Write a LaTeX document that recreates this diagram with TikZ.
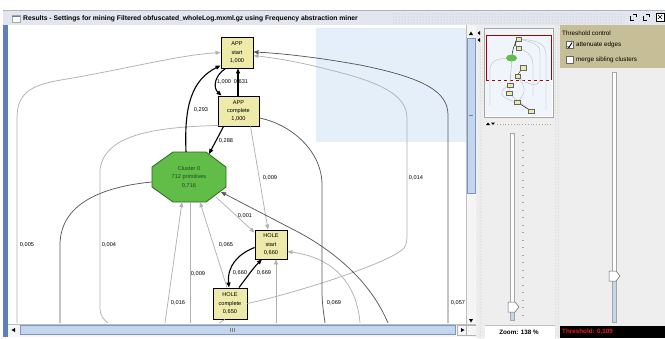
\documentclass[tikz,border=0pt]{standalone}
\usepackage{fontspec}
\setmainfont{Liberation Sans}
\usetikzlibrary{arrows.meta,calc,patterns}
\definecolor{nodeyel}{RGB}{238,234,170}
\definecolor{octgreen}{RGB}{98,188,72}
\definecolor{octdark}{RGB}{38,105,30}
\definecolor{octtext}{RGB}{30,70,30}
\definecolor{edgedark}{RGB}{90,90,90}
\definecolor{edgelight}{RGB}{178,178,178}
\definecolor{viewblue}{RGB}{228,239,249}
\definecolor{khaki}{RGB}{198,190,150}
\definecolor{panelgrey}{RGB}{238,238,238}
\definecolor{scrollblue}{RGB}{196,214,238}
\definecolor{scrolledge}{RGB}{120,150,200}
\definecolor{borderblue}{RGB}{96,126,186}
\definecolor{titlebg}{RGB}{226,230,238}
\definecolor{thresred}{RGB}{235,30,30}
\begin{document}
\begin{tikzpicture}[x=1pt,y=-1pt,
  evt/.style={draw=black,line width=0.9pt,fill=nodeyel,align=center,font=\fontsize{5.6}{8.2}\selectfont,inner sep=0pt},
  lbl/.style={font=\fontsize{5.6}{6}\selectfont,inner sep=0pt},
  bk/.style={line width=1.1pt,black},
  dk/.style={line width=0.75pt,edgedark},
  lt/.style={line width=0.75pt,edgelight},
  tip/.style={-{Triangle[length=5pt,width=4pt]}},
  ui/.style={font=\fontsize{6.3}{7}\selectfont,inner sep=0pt},
  dotstrip/.style={pattern=dots,pattern color=gray!55},
  sbox/.style={draw=gray!70,fill=white,line width=0.5pt}
]
\useasboundingbox (0,0) rectangle (665,338);
\fill[white] (0,0) rectangle (665,338);

% ---------- window title bar ----------
\fill[titlebg] (3,10) rectangle (665,25);
\draw[gray!60,line width=0.4pt] (3,10) -- (665,10);
\fill[dotstrip] (393,13) rectangle (624,23);
\draw[gray!70,fill=white,line width=0.5pt] (12,15) rectangle (20,22);
\draw[borderblue,line width=1pt] (12,16) -- (20,16);
\node[ui,font=\fontsize{6.75}{7.5}\selectfont\bfseries,anchor=west] (title) at (23,19)
  {Results - Settings for mining Filtered obfuscated\_wholeLog.mxml.gz using Frequency abstraction miner};
% title icons
\draw[black,line width=0.5pt] (630,16) -- (630,20) -- (634,20);
\draw[black,line width=0.5pt] (633,14) -- (636,14) -- (636,17);
\draw[black,line width=0.5pt] (643,16) -- (643,20) -- (647,20);
\draw[black,line width=0.5pt] (646,14) -- (649,14) -- (649,17);
\draw[black,line width=0.5pt,fill=white] (656,13) rectangle (664,21);
\draw[black,line width=0.6pt] (658,15) -- (662,19) (662,15) -- (658,19);

% ---------- left border, canvas ----------
\fill[borderblue] (3,25) rectangle (8,337);
\fill[white] (8,25) rectangle (466,324);
\fill[viewblue] (316,28) rectangle (466,142);

% ---------- graph ----------
\node[evt,minimum width=32,minimum height=31] (as) at (237,52.5) {APP\\start\\1,000};
\node[evt,minimum width=41,minimum height=30] (ac) at (238.5,111) {APP\\complete\\1,000};
\coordinate (clc) at (189,177);
\draw[octdark,line width=0.8pt,fill=octgreen]
  ($(clc)+(-16,-25)$) -- ($(clc)+(17,-25)$) -- ($(clc)+(37,-10)$) -- ($(clc)+(37,10)$)
  -- ($(clc)+(17,25)$) -- ($(clc)+(-16,25)$) -- ($(clc)+(-37,10)$) -- ($(clc)+(-37,-10)$) -- cycle;
\node[align=center,font=\fontsize{5.6}{8.6}\selectfont,text=octtext,minimum width=74,minimum height=50,inner sep=0pt] (cl) at (clc)
  {Cluster 0\\712 primitives\\0,716};
\node[evt,minimum width=32,minimum height=29] (hs) at (271,244.5) {HOLE\\start\\0,660};
\node[evt,minimum width=34,minimum height=31] (hc) at (230,303.5) {HOLE\\complete\\0,650};

% free ends at the canvas bottom / off-canvas
\coordinate (b17) at (17,323);
\coordinate (b60) at (60,323);
\coordinate (b108) at (108,323);
\coordinate (b165) at (165,323);
\coordinate (b190) at (190,323);
\coordinate (b219) at (219,323);
\coordinate (b276) at (276,323);
\coordinate (b325) at (325,323);
\coordinate (b360) at (360,323);
\coordinate (b388) at (388,323);
\coordinate (b448) at (448,323);

% light edges
\draw[lt,tip] (b17) -- (17,118) .. controls (17,90) and (35,84) .. (67,79)
  .. controls (130,68) and (180,55) .. (as.west);
\draw[lt] ($(ac.south west)+(1,-1)$) .. controls (160,127) and (104,133) .. (100,170)
  -- (100,308) .. controls (100,316) and (104,320) .. (b108);
\draw[lt,tip] (hc.east) .. controls (300,292) and (392,262) .. (404,248)
  .. controls (407,244) and (407,240) .. (407,232) -- (407,118)
  .. controls (407,95) and (380,82) .. (330,70) .. controls (300,62) and (275,58) .. ($(as.east)+(0,3)$);
\draw[lt,tip] (b360) .. controls (357,285) and (335,258) .. ($(hs.east)+(0,7)$);
\draw[lt,tip] ($(ac.south)+(12,0)$) -- ($(hs.north)+(-3,0)$);
\draw[lt,tip] ($(cl.center)+(27,20)$) -- ($(hs.north west)+(0,3)$);
\draw[lt,tip] ($(hc.north)+(-3,0)$) -- ($(cl.south)+(11,0)$);
\draw[lt,tip] (b276) -- ($(hs.south)+(5,0)$);
\draw[lt,tip] (b165) -- ($(cl.south)+(-7,0)$);
\draw[lt] (b190) -- ($(cl.south)+(1,0)$);
\draw[lt] ($(hc.south)+(-5,0)$) -- (b219);

% dark edges
\draw[dk] ($(cl.west)+(0,5)$) .. controls (110,186) and (60,200) .. (60,245) -- (b60);
\draw[dk,tip] (b448) -- (448,115) .. controls (448,92) and (425,78) .. (360,65)
  .. controls (310,56) and (275,53) .. ($(as.east)+(0,-0.5)$);
\draw[dk] ($(ac.east)+(0,7)$) .. controls (290,124) and (322,150) .. (322,185)
  -- (322,290) .. controls (322,305) and (324,315) .. (b325);
\draw[dk,tip] (b388) .. controls (372,285) and (340,255) .. (300,233) -- ($(cl.center)+(32,15)$);

% black edges
\draw[bk,tip] ($(as.south west)+(5,0)$) .. controls (214,76) and (213,88) .. ($(ac.north west)+(4,0)$);
\draw[bk,tip] (ac.north -| 238,0) -- (as.south -| 238,0);
\draw[bk,tip] ($(cl.north)+(-3,0)$) .. controls (184,105) and (192,80) .. ($(as.south west)+(0,-3)$);
\draw[bk,tip] ($(ac.south west)+(6,0)$) -- ($(cl.center)+(20,-23)$);
\draw[bk,tip] ($(hs.west)+(0,3)$) .. controls (238,254) and (227,266) .. ($(hc.north)+(-1,0)$);
\draw[bk,tip] ($(hc.north)+(9,0)$) .. controls (247,277) and (254,267) .. ($(hs.south)+(-9,0)$);

% edge labels
\node[lbl] (l1) at (224,82) {1,000};
\node[lbl] (l2) at (241,82) {0,631};
\node[lbl] (l3) at (201,110) {0,293};
\node[lbl] (l4) at (226,141) {0,288};
\node[lbl] (l5) at (27,245) {0,005};
\node[lbl] (l6) at (109,245) {0,004};
\node[lbl] (l7) at (416,178) {0,014};
\node[lbl] (l8) at (458,303) {0,057};
\node[lbl] (l9) at (334,303) {0,069};
\node[lbl] (l10) at (270,178) {0,009};
\node[lbl] (l11) at (245,216) {0,001};
\node[lbl] (l12) at (226,245) {0,065};
\node[lbl] (l13) at (240,273) {0,660};
\node[lbl] (l14) at (264,273) {0,669};
\node[lbl] (l15) at (178,303) {0,016};
\node[lbl] (l16) at (198,274) {0,009};

% ---------- scrollbars ----------
\fill[gray!8] (466,25) rectangle (476,324);
\draw[gray!50,line width=0.4pt] (466,25) -- (466,324);
\draw[scrolledge,fill=scrollblue,line width=0.5pt] (467,38) rectangle (475,193);
\draw[gray,line width=0.5pt] (469,115) -- (473,115);
\fill[black] (469,35) -- (473,35) -- (471,31.5) -- cycle;
\fill[black] (469,319) -- (473,319) -- (471,322.5) -- cycle;
\fill[gray!8] (8,324) rectangle (476,337);
\draw[gray!50,line width=0.4pt] (8,324) -- (476,324);
\draw[scrolledge,fill=scrollblue,line width=0.5pt] (20,325.5) rectangle (455,334.5);
\draw[gray,line width=0.4pt] (230,328) -- (230,332) (232,328) -- (232,332) (234,328) -- (234,332);
\fill[black] (15,328) -- (15,332) -- (11.5,330) -- cycle;
\fill[black] (461,328) -- (461,332) -- (464.5,330) -- cycle;
\draw[gray!60,line width=0.4pt] (457,325) rectangle (466,335) (466,325) rectangle (476,335);

% strip with arrows
\fill[panelgrey] (476,25) rectangle (483,338);
\fill[dotstrip] (479,46) rectangle (483,338);
\fill[black] (480,31) -- (480,35) -- (477.5,33) -- cycle;
\fill[black] (480,38) -- (480,42) -- (477.5,40) -- cycle;

% ---------- navigator ----------
\fill[panelgrey] (483,25) rectangle (555,338);
\draw[gray!70,fill=white,line width=0.5pt] (484,28) rectangle (553,117);
\fill[viewblue!60] (485,29) rectangle (552,116);
\draw[red!65!black,line width=0.6pt] (486,80) -- (486,35) -- (551,35) -- (551,80);
\draw[red!65!black,line width=0.6pt,dashed] (486,80) -- (551,80);
\begin{scope}[edgelight,line width=0.3pt]
  \draw (512,58) .. controls (495,58) and (490,62) .. (490,70) -- (490,105);
  \draw (518,39) .. controls (540,40) and (546,45) .. (546,55) -- (546,110);
  \draw (518,39) .. controls (535,42) and (540,46) .. (540,52) -- (540,80) .. controls (540,85) and (530,88) .. (517,76);
  \draw (518,48) .. controls (530,52) and (533,58) .. (533,65) -- (533,95);
  \draw (512,58) -- (510,85) (512,58) -- (509,93);
  \draw (517,76) .. controls (525,86) and (528,92) .. (517,102);
  \draw (509,93) .. controls (515,100) and (525,105) .. (531,111);
  \draw (510,85) .. controls (498,90) and (498,98) .. (517,102);
\end{scope}
\begin{scope}[black,line width=0.4pt]
  \draw (518,48) .. controls (514,45) and (514,42) .. (518,39);
  \draw (523,67) -- (517,76);
  \draw (517,102) -- (531,111);
  \draw (512,58) .. controls (512,50) and (514,45) .. (518,39);
\end{scope}
\fill[octgreen] (511.5,58) ellipse (5.5 and 3.5);
\foreach \p in {(518.5,39),(518.8,48),(523.4,67.5),(517.5,76),(510,85),(509,93),(517,102),(531,111)}
  \draw[gray!80!black,fill=nodeyel,line width=0.3pt] \p ++(-2.8,-2.2) rectangle ++(5.6,4.4);
% nav controls
\fill[black] (486,125) -- (490,125) -- (488,122.5) -- cycle;
\fill[black] (491,122.5) -- (495,122.5) -- (493,125) -- cycle;
\draw[gray!70,dotted,line width=0.8pt] (497,124) -- (553,124);
% zoom slider
\draw[sbox] (510,133) rectangle (514,320);
\fill[scrollblue] (510.5,307) rectangle (513.5,319.5);
\foreach \k in {0,...,24} \draw[gray!70,line width=0.4pt] (522,{135+7.5*\k}) -- (524,{135+7.5*\k});
\draw[gray!80!black,fill=white,line width=0.5pt] (508,302) -- (515,302) -- (519,307) -- (515,312) -- (508,312) -- cycle;
\fill[white] (485,325) rectangle (555,338);
\draw[gray!50,line width=0.4pt] (485,325) -- (555,325);
\node[ui,font=\fontsize{6.3}{7}\selectfont\bfseries] (zoomlbl) at (519,332) {Zoom: 138 \%};

% ---------- threshold panel ----------
\fill[panelgrey] (555,25) rectangle (665,338);
\fill[dotstrip] (555,25) rectangle (560,338);
\fill[khaki] (560,25) rectangle (665,68);
\node[ui,anchor=west] (thc) at (562,33.5) {Threshold control};
\draw[gray!80!black,fill=white,line width=0.5pt] (566,41.5) rectangle (573,48.5);
\draw[black,line width=0.9pt] (567.5,46.5) -- (569,47.5) -- (572,42.5);
\node[ui,anchor=west] (att) at (576,45) {attenuate edges};
\draw[gray!80!black,fill=white,line width=0.5pt] (566,56.5) rectangle (573,63.5);
\node[ui,anchor=west] (msc) at (576,60) {merge sibling clusters};
\draw[sbox] (612,72) rectangle (616,322);
\fill[scrollblue] (612.5,276) rectangle (615.5,321.5);
\draw[gray!80!black,fill=white,line width=0.5pt] (609,271) -- (616,271) -- (620,276) -- (616,281) -- (609,281) -- cycle;
\fill[black] (560,326) rectangle (665,338);
\node[ui,anchor=west,text=thresred,font=\fontsize{6.3}{7}\selectfont\bfseries] (thr) at (562,332) {Threshold: 0,109};
\end{tikzpicture}
\end{document}
